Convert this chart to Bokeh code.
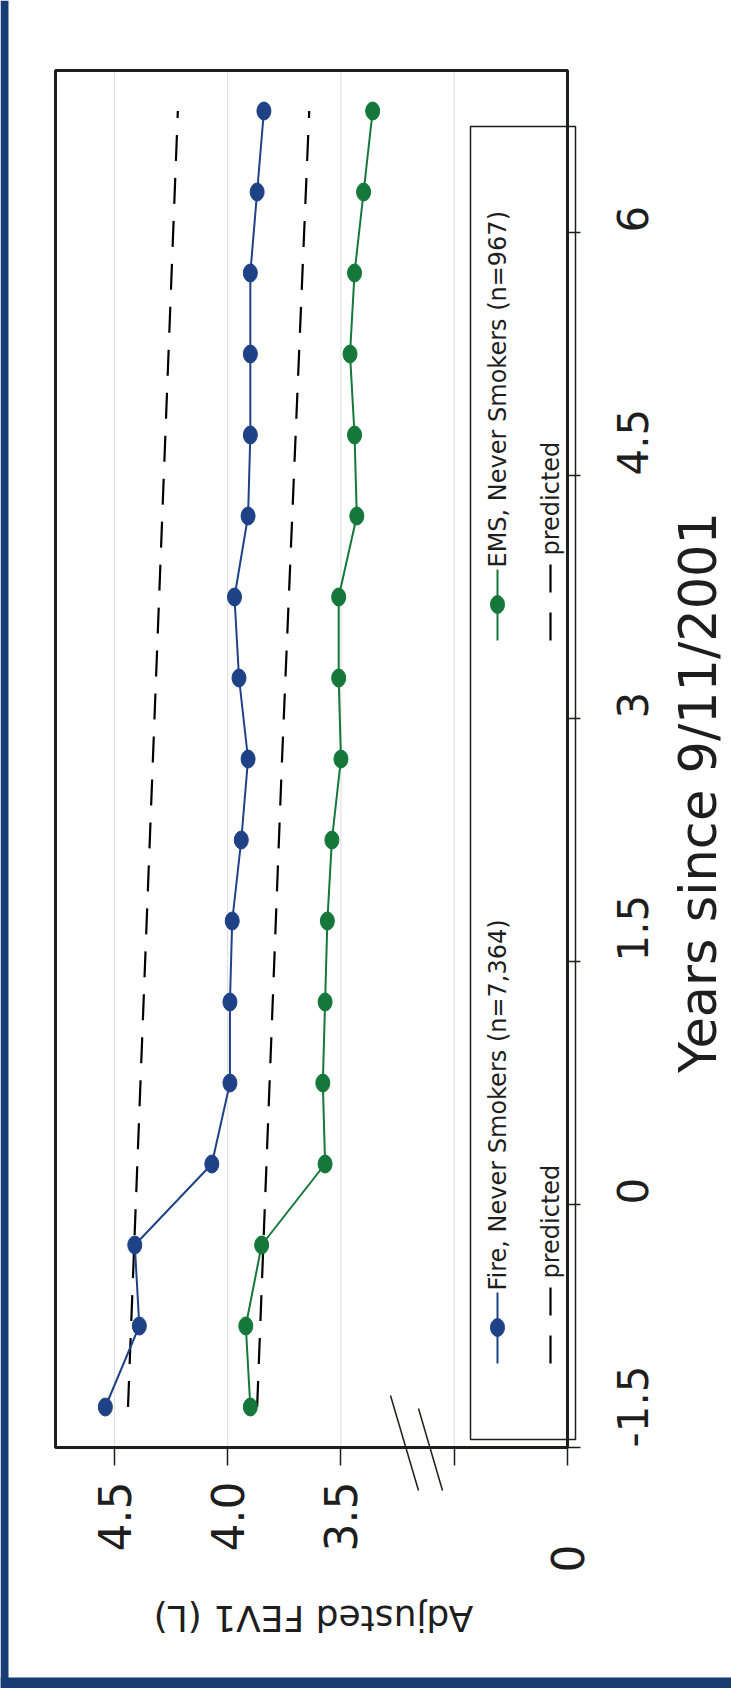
import math

from bokeh.embed import file_html
from bokeh.models import BoxAnnotation, FixedTicker, Label, LinearAxis, Range1d
from bokeh.plotting import figure
from bokeh.resources import INLINE

# Adjusted FEV1 (L) by half-year interval since 9/11/2001, never smokers
years = [-1.25, -0.75, -0.25, 0.25, 0.75, 1.25, 1.75, 2.25, 2.75,
         3.25, 3.75, 4.25, 4.75, 5.25, 5.75, 6.25, 6.75]
fire_fev1 = [4.54, 4.39, 4.41, 4.07, 3.99, 3.99, 3.98, 3.94, 3.91,
             3.95, 3.97, 3.91, 3.90, 3.90, 3.90, 3.87, 3.84]
ems_fev1 = [3.90, 3.92, 3.85, 3.57, 3.58, 3.57, 3.56, 3.54, 3.50,
            3.51, 3.51, 3.43, 3.44, 3.46, 3.44, 3.40, 3.36]

# predicted (expected age-related) decline
pred_years = [-1.25, 2.75, 6.75]
fire_pred = [4.44, 4.33, 4.22]
ems_pred = [3.87, 3.76, 3.64]

fev1_ticks = [4.5, 4.0, 3.5, 3.0, 2.5]
fev1_tick_labels = ["4.5", "4.0", "3.5", "", ""]
fev1_grid = [4.5, 4.0, 3.5, 3.0]
year_ticks = [-1.5, 0.0, 1.5, 3.0, 4.5, 6.0]
year_tick_labels = ["-1.5", "0", "1.5", "3", "4.5", "6"]

fire_label = "Fire, Never Smokers (n=7,364)"
ems_label = "EMS, Never Smokers (n=967)"
pred_label = "predicted"

FONT = "DejaVu Sans"
INK = "#1b201b"
TXT = "#1e1e1e"
NAVY = "#173c74"
BLUE = "#1f4286"
GREEN = "#15773a"
GRID = "#dcdcdc"

W, H = 731, 1688
# plot box in canvas pixels and in data units
BX_L, BX_R, BX_T, BX_B = 55, 567, 70, 1447
X0, X1 = 4.76, 2.5   # FEV1 runs right-to-left
Y0, Y1 = -1.5, 7.0   # years run bottom-to-top


def fx(px):
    return X0 + (px - BX_L) / (BX_R - BX_L) * (X1 - X0)


def fy(py):
    return Y1 - (py - BX_T) / (BX_B - BX_T) * (Y1 - Y0)


# the frame covers the whole canvas; axes sit on the plot box edges
p = figure(width=W, height=H, title=None,
           x_range=Range1d(fx(0), fx(W)), y_range=Range1d(fy(H), fy(0)),
           x_axis_location=None, y_axis_location=None,
           output_backend="svg", toolbar_location=None,
           min_border=0, min_border_left=0, min_border_right=0,
           min_border_top=0, min_border_bottom=0,
           background_fill_color="white", border_fill_color="white")
p.outline_line_color = None
p.grid.visible = False

# vertical grid lines inside the plot box
p.segment(x0=fev1_grid, y0=[Y0] * len(fev1_grid), x1=fev1_grid, y1=[Y1] * len(fev1_grid),
          line_color=GRID, line_width=1)

# plot box
p.add_layout(BoxAnnotation(left=X0, right=X1, top=Y1, bottom=Y0, fill_alpha=0,
                           line_color=INK, line_alpha=1, line_width=3))

# FEV1 axis along the bottom edge of the box
xa = LinearAxis(fixed_location=Y0, bounds=(X1, X0),
                ticker=FixedTicker(ticks=fev1_ticks),
                major_label_overrides=dict(zip(fev1_ticks, fev1_tick_labels)),
                major_label_orientation=math.pi / 2,
                major_label_text_font=FONT, major_label_text_font_size="44px",
                major_label_text_color=TXT, major_label_standoff=16,
                major_tick_in=0, major_tick_out=18, major_tick_line_width=1.5,
                major_tick_line_color=INK, minor_tick_line_color=None,
                axis_line_width=3, axis_line_color=INK)
p.add_layout(xa, "below")

# years axis along the right edge of the box
ya = LinearAxis(fixed_location=X1, bounds=(Y0, Y1),
                ticker=FixedTicker(ticks=year_ticks),
                major_label_overrides=dict(zip(year_ticks, year_tick_labels)),
                major_label_orientation=math.pi / 2,
                major_label_text_font=FONT, major_label_text_font_size="42px",
                major_label_text_color=TXT, major_label_standoff=52,
                major_tick_in=0, major_tick_out=13, major_tick_line_width=1.5,
                major_tick_line_color=INK, minor_tick_line_color=None,
                axis_line_width=3, axis_line_color=INK)
p.add_layout(ya, "right")

# predicted trajectories
p.line(fire_pred, pred_years, line_color="black", line_width=2.2, line_dash="26 17")
p.line(ems_pred, pred_years, line_color="black", line_width=2.2, line_dash="26 17")

# observed series
p.line(fire_fev1, years, line_color=BLUE, line_width=2)
p.ellipse(fire_fev1, years, width=14, height=18, width_units="screen",
          height_units="screen", fill_color=BLUE, line_color=BLUE)
p.line(ems_fev1, years, line_color=GREEN, line_width=2)
p.ellipse(ems_fev1, years, width=14, height=18, width_units="screen",
          height_units="screen", fill_color=GREEN, line_color=GREEN)

# axis titles and the broken-axis origin label
p.add_layout(Label(x=fx(313), y=fy(1618), text="Adjusted FEV1 (L)", angle=math.pi,
                   text_align="center", text_baseline="middle",
                   text_font=FONT, text_font_size="36px", text_color=TXT))
p.add_layout(Label(x=fx(698), y=fy(792), text="Years since 9/11/2001", angle=math.pi / 2,
                   text_align="center", text_baseline="middle",
                   text_font=FONT, text_font_size="51px", text_color=TXT))
p.add_layout(Label(x=X1, y=fy(1558), text="0", angle=math.pi / 2,
                   text_align="center", text_baseline="middle",
                   text_font=FONT, text_font_size="44px", text_color=TXT))

# axis break marks
p.segment(x0=[fx(390), fx(418)], y0=[fy(1395), fy(1408)],
          x1=[fx(418), fx(442)], y1=[fy(1490), fy(1490)],
          line_color=INK, line_width=1.5)

# legend
p.add_layout(BoxAnnotation(left=fx(470), right=fx(575), top=fy(126), bottom=fy(1439),
                           fill_alpha=0, line_color=INK, line_alpha=1, line_width=1.5))


def legend_column(base_py, color, label):
    key_x = fx(497)
    pred_x = fx(550)
    p.line([key_x, key_x], [fy(base_py), fy(base_py - 71)], line_color=color, line_width=2)
    p.ellipse([key_x], [fy(base_py - 36)], width=14, height=18, width_units="screen",
              height_units="screen", fill_color=color, line_color=color)
    p.add_layout(Label(x=key_x, y=fy(base_py - 73), text=label, angle=math.pi / 2,
                       text_align="left", text_baseline="middle",
                       text_font=FONT, text_font_size="24px", text_color=TXT))
    p.line([pred_x, pred_x], [fy(base_py), fy(base_py - 76)], line_color="black",
           line_width=2.2, line_dash="28 20")
    p.add_layout(Label(x=pred_x, y=fy(base_py - 85), text=pred_label, angle=math.pi / 2,
                       text_align="left", text_baseline="middle",
                       text_font=FONT, text_font_size="24px", text_color=TXT))


legend_column(1363, BLUE, fire_label)
legend_column(640, GREEN, ems_label)

# page edge bands
p.add_layout(BoxAnnotation(left=fx(0), right=fx(8), top=fy(0), bottom=fy(H),
                           fill_color=NAVY, fill_alpha=1, line_alpha=0))
p.add_layout(BoxAnnotation(left=fx(0), right=fx(W), top=fy(1677), bottom=fy(H),
                           fill_color=NAVY, fill_alpha=1, line_alpha=0))

open("out.html", "w").write(file_html(p, INLINE))
